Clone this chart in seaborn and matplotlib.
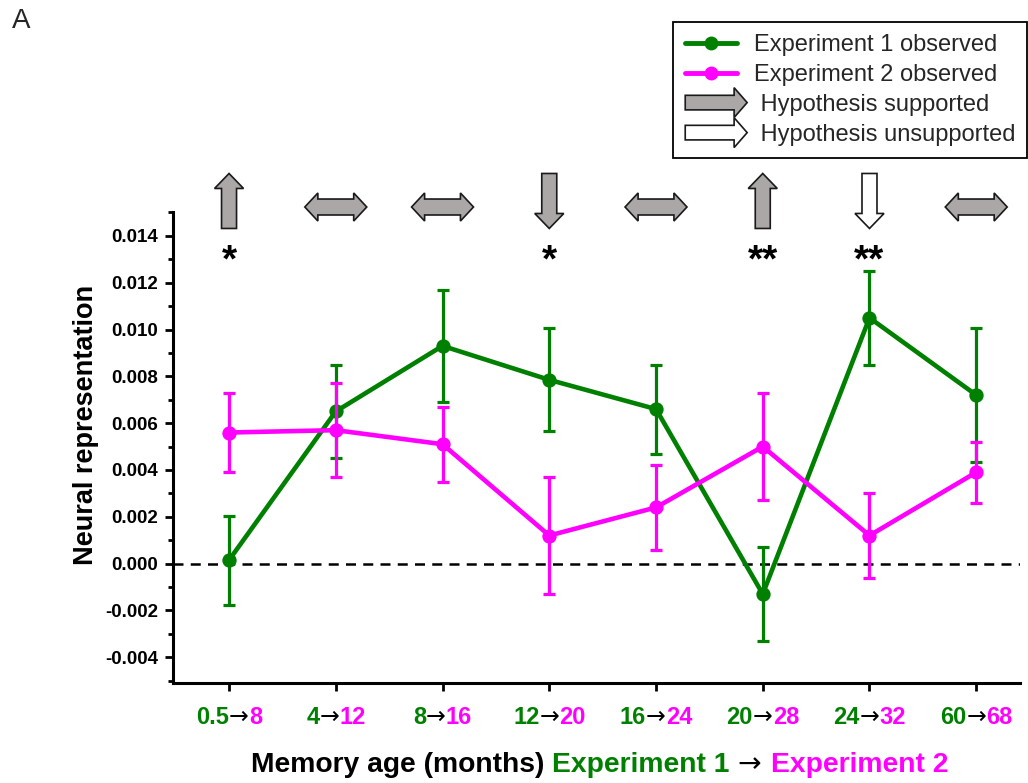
import numpy as np
import pandas as pd
import matplotlib
matplotlib.use("Agg")
import matplotlib.pyplot as plt
import seaborn as sns
from matplotlib import transforms
from matplotlib.lines import Line2D
from matplotlib.patches import Polygon, Patch
from matplotlib.legend_handler import HandlerPatch
from matplotlib.ticker import MultipleLocator, FormatStrFormatter

# Memory age (months) for each comparison, Experiment 1 -> Experiment 2
exp1_age = ["0.5", "4", "8", "12", "16", "20", "24", "60"]
exp2_age = ["8", "12", "16", "20", "24", "28", "32", "68"]

# Observed neural representation (mean and error)
exp1_mean = [0.00015, 0.0065, 0.0093, 0.00785, 0.0066, -0.0013, 0.0105, 0.0072]
exp1_err = [0.0019, 0.0020, 0.0024, 0.0022, 0.0019, 0.0020, 0.0020, 0.00285]
exp2_mean = [0.0056, 0.0057, 0.0051, 0.0012, 0.0024, 0.0050, 0.0012, 0.0039]
exp2_err = [0.0017, 0.0020, 0.0016, 0.0025, 0.0018, 0.0023, 0.0018, 0.0013]

# Predicted change and whether the prediction held, plus significance
hypothesis_direction = ["up", "both", "both", "down", "both", "up", "down", "both"]
hypothesis_supported = [True, True, True, True, True, True, False, True]
significance = ["*", "", "", "*", "", "**", "**", ""]

GREEN = "#008000"
MAGENTA = "#ff00ff"
ARROW_GRAY = "#aba7a7"
ARROW_EDGE = "#1a1a1a"
ARROW_CHAR = "\u2192"

sns.set_style("ticks")
plt.rcParams["font.family"] = ["Liberation Sans", "DejaVu Sans"]

fig = plt.figure(figsize=(10.28, 7.83), dpi=100)
ax = fig.add_axes([173 / 1028, 1 - 683 / 783, 847 / 1028, 471 / 783])

pos = np.arange(1, len(exp1_age) + 1)
df = pd.DataFrame({
    "pos": np.concatenate([pos, pos]),
    "value": exp1_mean + exp2_mean,
    "err": exp1_err + exp2_err,
    "experiment": ["Experiment 1 observed"] * len(pos) + ["Experiment 2 observed"] * len(pos),
})

ax.axhline(0, color="black", lw=1.8, ls=(0, (4.0, 2.9)), zorder=1)

series = [("Experiment 1 observed", GREEN), ("Experiment 2 observed", MAGENTA)]
for i, (name, color) in enumerate(series):
    sub = df[df["experiment"] == name]
    z = 2 + 2 * i
    ax.errorbar(sub["pos"], sub["value"], yerr=sub["err"], fmt="none",
                ecolor=color, elinewidth=2.3, capsize=4.6, capthick=2.3, zorder=z)
    sns.lineplot(data=sub, x="pos", y="value", color=color, marker="o",
                 markersize=10.3, markeredgewidth=0, linewidth=3.3,
                 errorbar=None, legend=False, ax=ax, zorder=z + 1)

ax.set_xlim(0.475, 8.41)
ax.set_ylim(-0.0051, 0.01502)
ax.set_xticks(pos)
ax.yaxis.set_major_locator(MultipleLocator(0.002))
ax.yaxis.set_minor_locator(MultipleLocator(0.001))
ax.yaxis.set_major_formatter(FormatStrFormatter("%.3f"))
ax.tick_params(axis="y", which="major", length=6, width=2, color="black",
               labelsize=13.5, pad=4.5, labelcolor="black")
ax.tick_params(axis="y", which="minor", length=3.5, width=2, color="black")
ax.tick_params(axis="x", which="major", length=6, width=2, color="black",
               labelbottom=False)
plt.setp(ax.get_yticklabels(), fontweight="bold")
for side in ["top", "right"]:
    ax.spines[side].set_visible(False)
for side in ["left", "bottom"]:
    ax.spines[side].set_linewidth(2.2)
    ax.spines[side].set_color("black")
ax.set_xlabel("")
ax.set_ylabel("Neural representation", fontsize=19.5, fontweight="bold", color="black")
ax.yaxis.set_label_coords(-0.0874, 0.5478)

renderer = fig.canvas.get_renderer()


def run_style(s, base):
    kw = dict(base)
    if s.strip() == ARROW_CHAR:
        kw["family"] = "DejaVu Sans"
        kw["fontweight"] = "normal"
    return kw


def text_advance(s, **kw):
    t = fig.text(0, 0, s + "|", **kw)
    w = t.get_window_extent(renderer).width
    t.remove()
    t = fig.text(0, 0, "|", **kw)
    w -= t.get_window_extent(renderer).width
    t.remove()
    return w


def colored_runs(runs, x, y, transform, **base):
    """Draw a row of differently coloured strings centred on (x, y)."""
    widths = [text_advance(s, **run_style(s, base)) for s, _ in runs]
    total = sum(widths)
    off = 0.0
    for (s, color), w in zip(runs, widths):
        tr = transform + transforms.ScaledTranslation((off - total / 2) / fig.dpi, 0,
                                                      fig.dpi_scale_trans)
        ax.text(x, y, s, color=color, transform=tr, ha="left", va="baseline",
                clip_on=False, **run_style(s, base))
        off += w


xcol = transforms.blended_transform_factory(ax.transData, ax.transAxes)

# Category labels: Experiment 1 age -> Experiment 2 age
for x, a1, a2 in zip(pos, exp1_age, exp2_age):
    colored_runs([(a1, GREEN), (ARROW_CHAR, "black"), (a2, MAGENTA)], x, -0.0877, xcol,
                 fontsize=17, fontweight="bold")

# Axis title in three colours
colored_runs([("Memory age (months) ", "black"), ("Experiment 1", GREEN),
              (" " + ARROW_CHAR + " ", "black"), ("Experiment 2", MAGENTA)],
             0.5035, -0.1883, ax.transAxes, fontsize=20.3, fontweight="bold")


def arrow_shape(kind, length, height, shaft, head):
    L, H, s, h = length / 2, height / 2, shaft / 2, head
    if kind == "both":
        pts = [(-L, 0), (-L + h, -H), (-L + h, -s), (L - h, -s), (L - h, -H), (L, 0),
               (L - h, H), (L - h, s), (-L + h, s), (-L + h, H)]
    else:
        pts = [(-L, -s), (L - h, -s), (L - h, -H), (L, 0), (L - h, H), (L - h, s), (-L, s)]
    pts = np.array(pts, dtype=float)
    if kind == "up":
        pts = np.column_stack([-pts[:, 1], pts[:, 0]])
    elif kind == "down":
        pts = np.column_stack([pts[:, 1], -pts[:, 0]])
    return pts


pt_to_px = transforms.Affine2D().scale(fig.dpi / 72.0)

# Hypothesis arrows and significance stars above each comparison
for x, kind, ok, star in zip(pos, hypothesis_direction, hypothesis_supported, significance):
    if kind == "both":
        shape = arrow_shape(kind, 44.6, 20.2, 11.5, 9.4)
        yc = 1.0106
    else:
        shape = arrow_shape(kind, 39.6, 20.9, 10.8, 10.8)
        yc = 1.0234
    tr = pt_to_px + transforms.ScaledTranslation(x, yc, xcol)
    poly = Polygon(shape, closed=True, transform=tr,
                   facecolor=ARROW_GRAY if ok else "white",
                   edgecolor=ARROW_EDGE, lw=1.2, clip_on=False, zorder=6)
    ax.add_artist(poly)
    if star:
        ax.text(x, 0.873, star, transform=xcol, ha="center", va="baseline",
                fontsize=28, fontweight="bold", color="black", clip_on=False)


class HandlerBlockArrow(HandlerPatch):
    def create_artists(self, legend, orig_handle, xdescent, ydescent, width, height,
                       fontsize, trans):
        length = 44.6
        pts = arrow_shape("right", length, 21.5, 10.5, 9.4)
        pts = pts + np.array([-xdescent + length / 2, -ydescent + height / 2])
        p = Polygon(pts, closed=True, facecolor=orig_handle.get_facecolor(),
                    edgecolor=orig_handle.get_edgecolor(), lw=1.2, transform=trans)
        return [p]


handles = [
    Line2D([], [], color=GREEN, lw=3.5, marker="o", markersize=10, markeredgewidth=0),
    Line2D([], [], color=MAGENTA, lw=3.5, marker="o", markersize=10, markeredgewidth=0),
    Patch(facecolor=ARROW_GRAY, edgecolor=ARROW_EDGE),
    Patch(facecolor="white", edgecolor=ARROW_EDGE),
]
labels = ["Experiment 1 observed", "Experiment 2 observed",
          " Hypothesis supported", " Hypothesis unsupported"]
leg = fig.legend(handles, labels, loc="upper right",
                 bbox_to_anchor=(1027 / 1028, 1 - 22 / 783), bbox_transform=fig.transFigure,
                 frameon=True, fancybox=False, edgecolor="black", framealpha=1,
                 fontsize=17, handlelength=2.2, handletextpad=0.7, labelspacing=0.34,
                 borderpad=0.5, borderaxespad=0, handler_map={Patch: HandlerBlockArrow()})
leg.get_frame().set_linewidth(1.3)

fig.text(12 / 1028, 1 - 28 / 783, "A", fontsize=20, ha="left", va="baseline")

fig.savefig("out.png", dpi=100)
